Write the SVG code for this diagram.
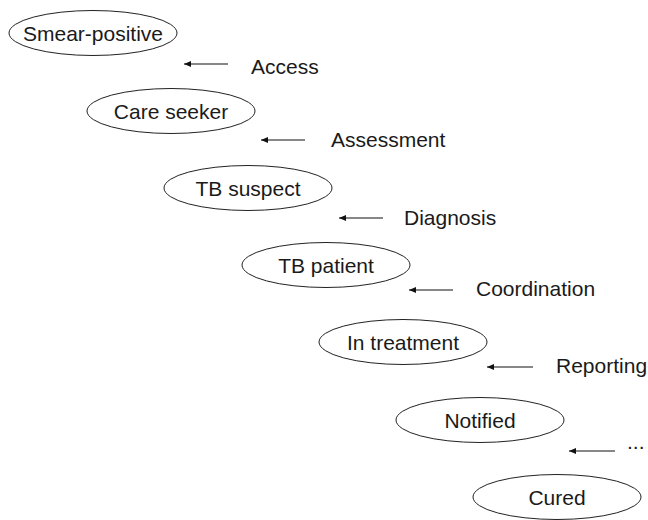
<svg xmlns="http://www.w3.org/2000/svg" width="648" height="520" viewBox="0 0 648 520">
  <style>
    .node ellipse { fill: #ffffff; stroke: #222222; stroke-width: 1; }
    text { font-family: "Liberation Sans", Arial, sans-serif; font-size: 21px; fill: #1a1a1a; }
    .node text { text-anchor: middle; }
    .edge { stroke: #111111; stroke-width: 1.1; fill: none; marker-end: url(#head); }
  </style>
  <defs>
    <marker id="head" markerUnits="userSpaceOnUse" markerWidth="8" markerHeight="6" refX="7" refY="3" orient="auto">
      <path d="M0,0 L7,3 L0,6 Z" fill="#111111"/>
    </marker>
  </defs>
  <rect width="648" height="520" fill="#ffffff"/>

  <g id="smear-positive" class="node">
    <ellipse cx="93" cy="33" rx="84" ry="22.5"/>
    <text x="93" y="40.5">Smear-positive</text>
  </g>
  <g id="care-seeker" class="node">
    <ellipse cx="171" cy="111" rx="84" ry="22.5"/>
    <text x="171" y="118.5">Care seeker</text>
  </g>
  <g id="tb-suspect" class="node">
    <ellipse cx="248" cy="188" rx="84" ry="22.5"/>
    <text x="248" y="195.5">TB suspect</text>
  </g>
  <g id="tb-patient" class="node">
    <ellipse cx="326" cy="265" rx="84" ry="22.5"/>
    <text x="326" y="272.5">TB patient</text>
  </g>
  <g id="in-treatment" class="node">
    <ellipse cx="403" cy="342" rx="84" ry="22.5"/>
    <text x="403" y="349.5">In treatment</text>
  </g>
  <g id="notified" class="node">
    <ellipse cx="480" cy="420" rx="84" ry="22.5"/>
    <text x="480" y="427.5">Notified</text>
  </g>
  <g id="cured" class="node">
    <ellipse cx="557" cy="497" rx="84" ry="22.5"/>
    <text x="557" y="504.5">Cured</text>
  </g>

  <g id="connectors">
    <line class="edge" x1="228" y1="64" x2="184" y2="64"/>
    <line class="edge" x1="305" y1="140" x2="261" y2="140"/>
    <line class="edge" x1="383" y1="218" x2="339" y2="218"/>
    <line class="edge" x1="453" y1="290" x2="409" y2="290"/>
    <line class="edge" x1="533" y1="367" x2="487" y2="367"/>
    <line class="edge" x1="615" y1="451" x2="569" y2="451"/>
    <text x="251" y="74">Access</text>
    <text x="331" y="147">Assessment</text>
    <text x="404" y="225">Diagnosis</text>
    <text x="476" y="296">Coordination</text>
    <text x="556" y="373">Reporting</text>
    <text x="627" y="449">...</text>
  </g>
</svg>
